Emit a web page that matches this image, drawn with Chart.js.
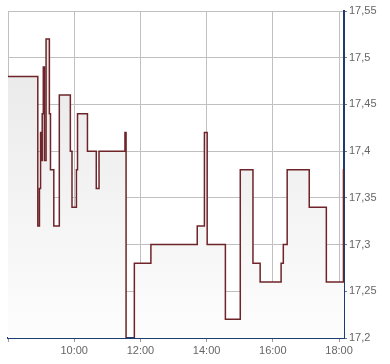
<!DOCTYPE html>
<html lang="de">
<head>
    <meta charset="UTF-8">
    <title>Kursverlauf</title>
    <style>
        html, body { margin: 0; padding: 0; background: #fff; }
        #wrap { width: 390px; height: 364px; }
    </style>
</head>
<body>
    <div id="wrap"><canvas id="myChart" width="390" height="364"></canvas></div>
    <script src="https://cdn.jsdelivr.net/npm/chart.js@4/dist/chart.umd.min.js"></script>
    <script>
        // trade times (HH:MM) and prices
        var times = [
            '08:00', '08:54', '08:57', '08:59', '09:01', '09:02', '09:04', '09:06', '09:09', '09:15',
            '09:17', '09:23', '09:33', '09:53', '09:56', '10:04', '10:06', '10:24',
            '10:40', '10:45', '11:32', '11:34', '11:49', '12:19', '13:43', '13:56', '14:01', '14:34',
            '15:01', '15:24', '15:37', '16:15', '16:19', '16:26', '17:06', '17:37', '18:08', '18:09'
        ];
        var prices = [
            17.48, 17.32, 17.36, 17.42, 17.39, 17.44, 17.49, 17.39, 17.52, 17.44,
            17.38, 17.32, 17.46, 17.40, 17.34, 17.38, 17.44, 17.40,
            17.36, 17.40, 17.42, 17.19, 17.28, 17.30, 17.32, 17.42, 17.30, 17.22,
            17.38, 17.28, 17.26, 17.28, 17.30, 17.38, 17.34, 17.26, 17.38, 17.38
        ];
        var xTickTimes = ['08:00', '10:00', '12:00', '14:00', '16:00', '18:00'];
        var yTicks = [17.2, 17.25, 17.3, 17.35, 17.4, 17.45, 17.5, 17.55];

        function toMin(s) {
            var p = s.split(':');
            return (+p[0] - 8) * 60 + (+p[1]);
        }
        function toLabel(m) {
            var h = 8 + Math.floor(m / 60), mm = m % 60;
            return h + ':' + (mm < 10 ? '0' : '') + mm;
        }

        var points = times.map(function (t, i) { return { x: toMin(t), y: prices[i] }; });

        var ctx = document.getElementById('myChart').getContext('2d');
        new Chart(ctx, {
            type: 'line',
            data: {
                datasets: [{
                    data: points,
                    stepped: true,
                    clip: 0,
                    borderColor: '#6e2428',
                    borderWidth: 1.5,
                    pointRadius: 0,
                    fill: 'start',
                    backgroundColor: function (c) {
                        var a = c.chart.chartArea;
                        if (!a) return '#f0f0f0';
                        var g = c.chart.ctx.createLinearGradient(0, a.top, 0, a.bottom);
                        g.addColorStop(0, '#e6e6e6');
                        g.addColorStop(1, '#fdfdfd');
                        return g;
                    }
                }]
            },
            options: {
                responsive: false,
                animation: false,
                layout: { padding: { left: 8, top: 11, right: 0, bottom: 0 } },
                plugins: { legend: { display: false }, tooltip: { enabled: false } },
                scales: {
                    x: {
                        type: 'linear',
                        min: 0,
                        max: toMin('18:09'),
                        afterBuildTicks: function (s) {
                            s.ticks = xTickTimes.map(function (t) { return { value: toMin(t) }; });
                        },
                        afterFit: function (s) { s.height = 26; },
                        grid: { color: '#c0c0c0', tickColor: '#999', tickLength: 4 },
                        border: { color: '#1d3c72', width: 2 },
                        ticks: {
                            color: '#666',
                            padding: 2,
                            maxRotation: 0,
                            autoSkip: false,
                            font: { family: 'Liberation Sans, Arial', size: 11 },
                            callback: function (v) { return v === 0 ? '' : toLabel(v); }
                        }
                    },
                    y: {
                        position: 'right',
                        min: 17.2,
                        max: 17.55,
                        afterBuildTicks: function (s) {
                            s.ticks = yTicks.map(function (v) { return { value: v }; });
                        },
                        afterFit: function (s) { s.width = 46; },
                        grid: { color: '#c0c0c0', tickColor: '#777', tickLength: 3 },
                        border: { color: '#1d3c72', width: 2 },
                        ticks: {
                            color: '#666',
                            padding: 2,
                            font: { family: 'Liberation Sans, Arial', size: 11 },
                            callback: function (v) { return String(+v.toFixed(2)).replace('.', ','); }
                        }
                    }
                }
            }
        });
    </script>
</body>
</html>
